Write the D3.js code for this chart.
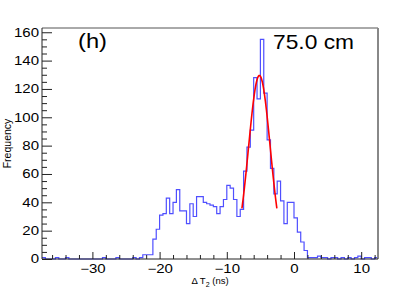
<!DOCTYPE html>
<meta charset="utf-8">
<style>
    body { margin: 0; background: #fff; }
    svg { display: block; }
    text { font-family: "Liberation Sans", Arial, Helvetica, sans-serif; fill: #000; }
</style>
<body>
<div id="chart"></div>
<script src="https://d3js.org/d3.v7.min.js"></script>
<script>
    // histogram of delta T2, 0.5 ns bins from -37.5 ns
    var binStart = -37.5
    var binWidth = 0.5
    var counts = [
        1, 0, 0, 0, 1, 0, 0, 1, 0, 0,
        0, 0, 0, 0, 0, 0, 0, 0, 1, 0,
        0, 0, 1, 0, 0, 0, 0, 1, 0, 1,
        3, 3, 3, 14, 21, 31, 32, 43, 32, 40,
        49, 34, 34, 25, 39, 30, 44, 44, 40, 39,
        38, 37, 32, 37, 42, 52, 50, 42, 30, 35,
        62, 79, 91, 128, 113, 155, 117, 84, 64, 46,
        55, 41, 25, 40, 40, 29, 19, 12, 6, 1,
        1, 1, 2, 1, 1, 0, 1, 1, 0, 1,
        0, 1, 0, 1, 2, 0, 1, 1, 0, 1
    ]

    // gaussian fit drawn in red
    var fitAmp = 129.5
    var fitMean = -5.15
    var fitSigma = 1.62
    var fitRange = [-7.75, -2.55]

    var xTicks = [-30, -20, -10, 0, 10]
    var yTicks = [0, 20, 40, 60, 80, 100, 120, 140, 160]
    var panelLabel = '(h)'
    var distLabel = '75.0 cm'

    var W = 420, H = 289
    var margin = { top: 28, right: 42, bottom: 30, left: 42 }
    var width = W - margin.left - margin.right
    var height = H - margin.top - margin.bottom

    var x = d3.scaleLinear().domain([-37.5, 12.5]).range([0, width])
    var y = d3.scaleLinear().domain([0, 163]).range([height, 0])

    var svg = d3.select('#chart').append('svg')
        .attr('width', W)
        .attr('height', H)

    var g = svg.append('g')
        .attr('transform', 'translate(' + margin.left + ',' + margin.top + ')')

    // histogram outline
    var pts = counts.map(function (c, i) { return [binStart + i * binWidth, c] })
    pts.push([binStart + counts.length * binWidth, counts[counts.length - 1]])
    var step = d3.line()
        .x(function (d) { return x(d[0]) })
        .y(function (d) { return y(d[1]) })
        .curve(d3.curveStepAfter)

    g.append('path')
        .datum(pts)
        .attr('d', step)
        .attr('fill', 'none')
        .attr('stroke', '#4f4fff')
        .attr('stroke-width', 1.2)

    // fit curve
    var fx = d3.range(fitRange[0], fitRange[1], 0.05).concat([fitRange[1]])
    var fit = fx.map(function (v) {
        return [v, fitAmp * Math.exp(-Math.pow(v - fitMean, 2) / (2 * fitSigma * fitSigma))]
    })
    g.append('path')
        .datum(fit)
        .attr('d', d3.line().x(function (d) { return x(d[0]) }).y(function (d) { return y(d[1]) }))
        .attr('fill', 'none')
        .attr('stroke', '#ff0000')
        .attr('stroke-width', 1.6)

    // axes: ticks point inward like ROOT
    var yMinor = d3.range(0, 165, 5).filter(function (v) { return v % 20 !== 0 })
    var xMinor = d3.range(-36, 13, 2).filter(function (v) { return v % 10 !== 0 })

    g.append('g')
        .call(d3.axisLeft(y).tickValues(yTicks).tickSizeInner(-10).tickSizeOuter(0).tickPadding(3))
    g.append('g')
        .call(d3.axisLeft(y).tickValues(yMinor).tickSizeInner(-5).tickSizeOuter(0).tickFormat(''))

    g.append('g')
        .attr('transform', 'translate(0,' + height + ')')
        .call(d3.axisBottom(x).tickValues(xTicks).tickSizeInner(-7).tickSizeOuter(0).tickPadding(5)
            .tickFormat(function (d) { return d < 0 ? '\u2212' + Math.abs(d) : d }))
    g.append('g')
        .attr('transform', 'translate(0,' + height + ')')
        .call(d3.axisBottom(x).tickValues(xMinor).tickSizeInner(-4).tickSizeOuter(0).tickFormat(''))

    g.selectAll('.domain').remove()
    g.selectAll('.tick line').attr('stroke', '#222')
    // the labels in the reference are drawn a bit wider than plain Arial
    g.selectAll('.tick text')
        .style('font-size', '12px')
        .each(function () {
            var w = this.getComputedTextLength()
            if (w > 0) d3.select(this).attr('textLength', w * 1.25).attr('lengthAdjust', 'spacingAndGlyphs')
        })

    // frame
    g.append('line').attr('x1', 0).attr('x2', width).attr('y1', 0).attr('y2', 0)
        .attr('stroke', '#555').attr('stroke-width', 1)
    g.append('line').attr('x1', width).attr('x2', width).attr('y1', 0).attr('y2', height)
        .attr('stroke', '#888').attr('stroke-width', 2)
    g.append('line').attr('x1', 0).attr('x2', 0).attr('y1', 0).attr('y2', height)
        .attr('stroke', '#222').attr('stroke-width', 1)
    g.append('line').attr('x1', 0).attr('x2', width).attr('y1', height).attr('y2', height)
        .attr('stroke', '#222').attr('stroke-width', 1)

    // labels
    svg.append('text')
        .attr('x', 78).attr('y', 48)
        .attr('textLength', 29).attr('lengthAdjust', 'spacingAndGlyphs')
        .style('font-size', '21px')
        .text(panelLabel)
    svg.append('text')
        .attr('x', 273).attr('y', 49)
        .attr('textLength', 81).attr('lengthAdjust', 'spacingAndGlyphs')
        .style('font-size', '21px')
        .text(distLabel)

    svg.append('text')
        .attr('transform', 'translate(10.6,' + (margin.top + height / 2) + ') rotate(-90)')
        .attr('text-anchor', 'middle')
        .style('font-size', '10.5px')
        .text('Frequency')

    var xt = svg.append('text')
        .attr('x', margin.left + width / 2).attr('y', 284)
        .attr('text-anchor', 'middle')
        .style('font-size', '9.5px')
    xt.append('tspan').text('\u0394 T')
    xt.append('tspan').attr('dy', 2.5).style('font-size', '7px').text('2')
    xt.append('tspan').attr('dy', -2.5).text(' (ns)')
</script>
</body>
